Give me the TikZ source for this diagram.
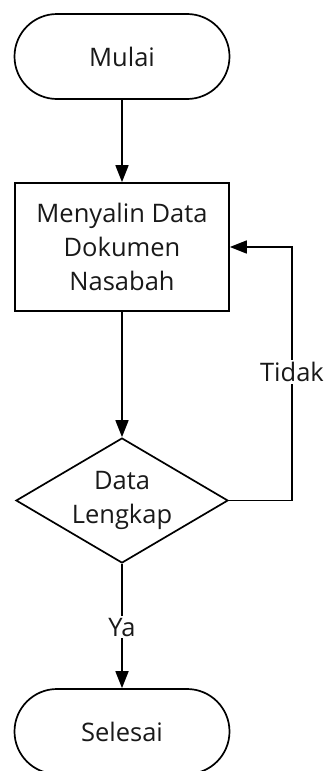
\documentclass[tikz,border=0pt]{standalone}
\usepackage{fontspec}
\setmainfont{Open Sans}
\usetikzlibrary{shapes.geometric,arrows.meta}
\begin{document}
\begin{tikzpicture}[x=1pt,y=-1pt,
  every node/.style={font=\fontsize{25.5}{34}\selectfont, text=black!90, align=center},
  terminal/.style={draw, line width=1.7pt, rectangle, rounded corners=42.5pt, minimum width=215pt, minimum height=85pt, inner sep=0pt},
  procbox/.style={draw, line width=1.7pt, rectangle, minimum width=214pt, minimum height=128pt, inner sep=0pt},
  decision/.style={draw, line width=1.7pt, diamond, aspect=1.7, minimum width=212pt, minimum height=125pt, inner sep=0pt},
  flow/.style={line width=1.7pt, -{Triangle[length=17pt,width=13pt]}},
  lbl/.style={fill=white, inner sep=2pt}]
\useasboundingbox (0,0) rectangle (326,771);
\node[terminal] (mulai) at (122,56.5) {Mulai};
\node[procbox] (proc) at (122,247) {Menyalin Data\\Dokumen\\Nasabah};
\node[decision] (dec) at (122,500.5) {Data\\Lengkap};
\node[terminal] (selesai) at (122,731.5) {Selesai};
\coordinate (rt) at (292,247);
\draw[flow] (mulai) -- (proc);
\draw[flow] (proc) -- (dec);
\draw[flow] (dec) -- node[lbl, pos=0.51] {Ya} (selesai);
\draw[flow] (dec.east) -| node[lbl, pos=0.753] {Tidak} (rt) -- (proc.east);
\end{tikzpicture}
\end{document}
